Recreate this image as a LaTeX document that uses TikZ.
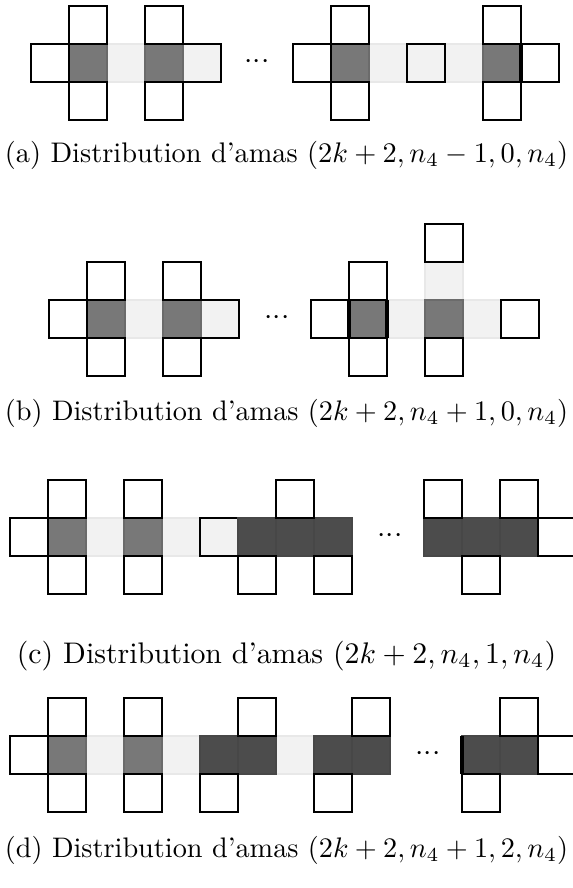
\documentclass[tikz,border=0pt]{standalone}
\usepackage{tikz}
\usepackage{graphicx}
\tikzset{
  wcell/.style={draw=black, fill=white, line width=0.4pt},
  lcell/.style={draw=black!9, fill=black!5, line width=0.4pt},
  lbcell/.style={draw=black, fill=black!5, line width=0.4pt},
  mcell/.style={draw=black!58, fill=black!53, line width=0.4pt},
  dcell/.style={draw=black!72, fill=black!70, line width=0.4pt},
  thickedge/.style={draw=black, line width=1.1pt},
  caption/.style={anchor=base, inner sep=0pt, font=\fontsize{10}{12}\selectfont},
  dotsnode/.style={inner sep=0pt},
}
\newcommand\cellat[3]{\path[#3] (#1,#2) rectangle ++(38,38);}
\newcommand\fitcap[1]{\resizebox{189pt}{!}{#1}}
\begin{document}
\begin{tikzpicture}[x=0.3356pt, y=-0.3356pt]
\useasboundingbox (0,0) rectangle (573,888);
\clip (0,0) rectangle (573,888);
% ---------------- (a)
\foreach \x in {107,369,445} {\cellat{\x}{44}{lcell}}
\foreach \x in {183,407} {\cellat{\x}{44}{lbcell}}
\foreach \x in {69,145,331,483} {\cellat{\x}{44}{mcell}}
\foreach \x in {31,293,521} {\cellat{\x}{44}{wcell}}
\foreach \x in {69,145,331,483} {\cellat{\x}{6}{wcell}\cellat{\x}{82}{wcell}}
\draw[thickedge] (521,44) -- (521,82);
\node[dotsnode] (dotsa) at (257,62) {$\mathord{\cdotp}\mathord{\cdotp}\mathord{\cdotp}$};
\node[caption] (capa) at (286.5,162) {\fitcap{(a) Distribution d'amas $(2k+2,n_4-1,0,n_4)$}};
% ---------------- (b)
\foreach \x/\y in {125/300,387/300,463/300,425/262} {\cellat{\x}{\y}{lcell}}
\cellat{201}{300}{lbcell}
\foreach \x in {87,163,349,425} {\cellat{\x}{300}{mcell}}
\foreach \x in {49,311,501} {\cellat{\x}{300}{wcell}}
\foreach \x/\y in {87/262,163/262,349/262,425/224} {\cellat{\x}{\y}{wcell}}
\foreach \x in {87,163,349,425} {\cellat{\x}{338}{wcell}}
\draw[thickedge] (349,300) -- (349,338);
\draw[thickedge] (387,300) -- (387,338);
\node[dotsnode] (dotsb) at (277,318) {$\mathord{\cdotp}\mathord{\cdotp}\mathord{\cdotp}$};
\node[caption] (capb) at (286.5,420) {\fitcap{(b) Distribution d'amas $(2k+2,n_4+1,0,n_4)$}};
% ---------------- (c)
\foreach \x in {86,162} {\cellat{\x}{518}{lcell}}
\cellat{200}{518}{lbcell}
\foreach \x in {48,124} {\cellat{\x}{518}{mcell}}
\foreach \x in {238,276,314,424,462,500} {\cellat{\x}{518}{dcell}}
\foreach \x in {10,538} {\cellat{\x}{518}{wcell}}
\foreach \x in {48,124,276,424,500} {\cellat{\x}{480}{wcell}}
\foreach \x in {48,124,238,314,462} {\cellat{\x}{556}{wcell}}
\node[dotsnode] (dotsc) at (390,536) {$\mathord{\cdotp}\mathord{\cdotp}\mathord{\cdotp}$};
\node[caption] (capc) at (286.5,663) {(c) Distribution d'amas $(2k+2,n_4,1,n_4)$};
% ---------------- (d)
\foreach \x in {86,162,276} {\cellat{\x}{736}{lcell}}
\foreach \x in {48,124} {\cellat{\x}{736}{mcell}}
\foreach \x in {200,238,314,352,462,500} {\cellat{\x}{736}{dcell}}
\foreach \x in {10,538} {\cellat{\x}{736}{wcell}}
\foreach \x in {48,124,238,352,500} {\cellat{\x}{698}{wcell}}
\foreach \x in {48,124,200,314,462} {\cellat{\x}{774}{wcell}}
\draw[thickedge] (462,736) -- (462,774);
\node[dotsnode] (dotsd) at (428,754) {$\mathord{\cdotp}\mathord{\cdotp}\mathord{\cdotp}$};
\node[caption] (capd) at (286.5,857) {\fitcap{(d) Distribution d'amas $(2k+2,n_4+1,2,n_4)$}};
\end{tikzpicture}
\end{document}
